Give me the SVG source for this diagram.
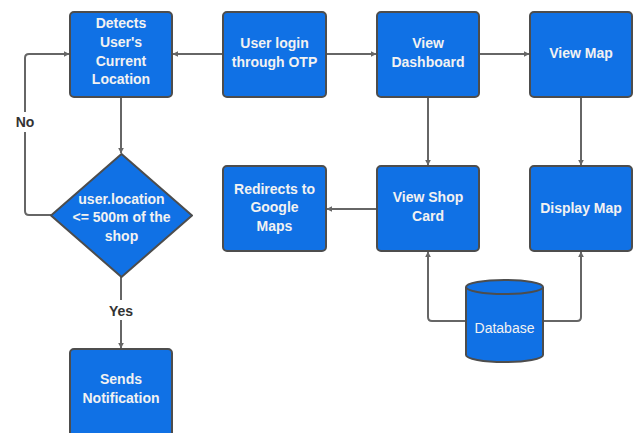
<svg xmlns="http://www.w3.org/2000/svg" width="637" height="433" viewBox="0 0 637 433">
  <style>
    .box { fill: #1071e5; stroke: #4d4d4d; stroke-width: 2; }
    .lbl { fill: #f2f2f2; font-family: "Liberation Sans", Arial, sans-serif; font-size: 14px; font-weight: bold; text-anchor: middle; }
    .db { font-weight: normal; }
    .edge { fill: none; stroke: #666666; stroke-width: 2; }
    .tag { fill: #333333; font-family: "Liberation Sans", Arial, sans-serif; font-size: 14px; font-weight: bold; text-anchor: middle; }
  </style>
  <defs>
    <marker id="arrow" viewBox="0 0 10 10" refX="9" refY="5" markerWidth="6" markerHeight="6" markerUnits="userSpaceOnUse" orient="auto">
      <path d="M0,0 L10,5 L0,10 Z" fill="#666666"/>
    </marker>
  </defs>
  <rect width="637" height="433" fill="#ffffff"/>

  <g id="connectors">
    <path class="edge" d="M223,54 H173" marker-end="url(#arrow)"/>
    <path class="edge" d="M326,54 H376" marker-end="url(#arrow)"/>
    <path class="edge" d="M479,54 H529" marker-end="url(#arrow)"/>
    <path class="edge" d="M428,97 V165" marker-end="url(#arrow)"/>
    <path class="edge" d="M581,97 V165" marker-end="url(#arrow)"/>
    <path class="edge" d="M377,209 H327" marker-end="url(#arrow)"/>
    <path class="edge" d="M121,97 V153" marker-end="url(#arrow)"/>
    <path class="edge" d="M51,215 H29 Q25,215 25,211 V58 Q25,54 29,54 H69" marker-end="url(#arrow)"/>
    <path class="edge" d="M121,277 V300 M121,320 V348" marker-end="url(#arrow)"/>
    <path class="edge" d="M466,321 H432 Q428,321 428,317 V252" marker-end="url(#arrow)"/>
    <path class="edge" d="M543,321 H577 Q581,321 581,317 V252" marker-end="url(#arrow)"/>
    <rect x="14" y="112" width="22" height="20" fill="#ffffff"/>
    <text class="tag" x="25" y="127">No</text>
    <text class="tag" x="121" y="316">Yes</text>
  </g>

  <g id="detect-location">
    <rect class="box" x="70" y="12" width="102" height="85" rx="4"/>
    <text class="lbl" x="121" y="28">Detects</text>
    <text class="lbl" x="121" y="47">User's</text>
    <text class="lbl" x="121" y="66">Current</text>
    <text class="lbl" x="121" y="84">Location</text>
  </g>

  <g id="user-login">
    <rect class="box" x="223" y="12" width="103" height="85" rx="4"/>
    <text class="lbl" x="274.5" y="48">User login</text>
    <text class="lbl" x="274.5" y="67">through OTP</text>
  </g>

  <g id="view-dashboard">
    <rect class="box" x="377" y="12" width="102" height="85" rx="4"/>
    <text class="lbl" x="428" y="48">View</text>
    <text class="lbl" x="428" y="67">Dashboard</text>
  </g>

  <g id="view-map">
    <rect class="box" x="530" y="12" width="102" height="85" rx="4"/>
    <text class="lbl" x="581" y="58">View Map</text>
  </g>

  <g id="redirect-maps">
    <rect class="box" x="223" y="166" width="103" height="85" rx="4"/>
    <text class="lbl" x="274.5" y="194">Redirects to</text>
    <text class="lbl" x="274.5" y="212">Google</text>
    <text class="lbl" x="274.5" y="231">Maps</text>
  </g>

  <g id="view-shop-card">
    <rect class="box" x="377" y="166" width="102" height="85" rx="4"/>
    <text class="lbl" x="428" y="202">View Shop</text>
    <text class="lbl" x="428" y="221">Card</text>
  </g>

  <g id="display-map">
    <rect class="box" x="530" y="166" width="102" height="85" rx="4"/>
    <text class="lbl" x="581" y="213">Display Map</text>
  </g>

  <g id="location-check">
    <path class="box" d="M121.5,154 L192,215.5 L121.5,277 L51,215.5 Z" stroke-linejoin="round"/>
    <text class="lbl" x="121.5" y="204">user.location</text>
    <text class="lbl" x="121.5" y="222">&lt;= 500m of the</text>
    <text class="lbl" x="121.5" y="241">shop</text>
  </g>

  <g id="send-notification">
    <rect class="box" x="70" y="349" width="102" height="90" rx="4"/>
    <text class="lbl" x="121" y="384">Sends</text>
    <text class="lbl" x="121" y="403">Notification</text>
  </g>

  <g id="database">
    <path class="box" d="M466,287 V355 A38.5,7 0 0 0 543,355 V287 A38.5,7 0 0 0 466,287 Z"/>
    <path class="box" d="M466,287 A38.5,7 0 0 0 543,287" fill="none"/>
    <text class="lbl db" x="504.5" y="333">Database</text>
  </g>
</svg>
